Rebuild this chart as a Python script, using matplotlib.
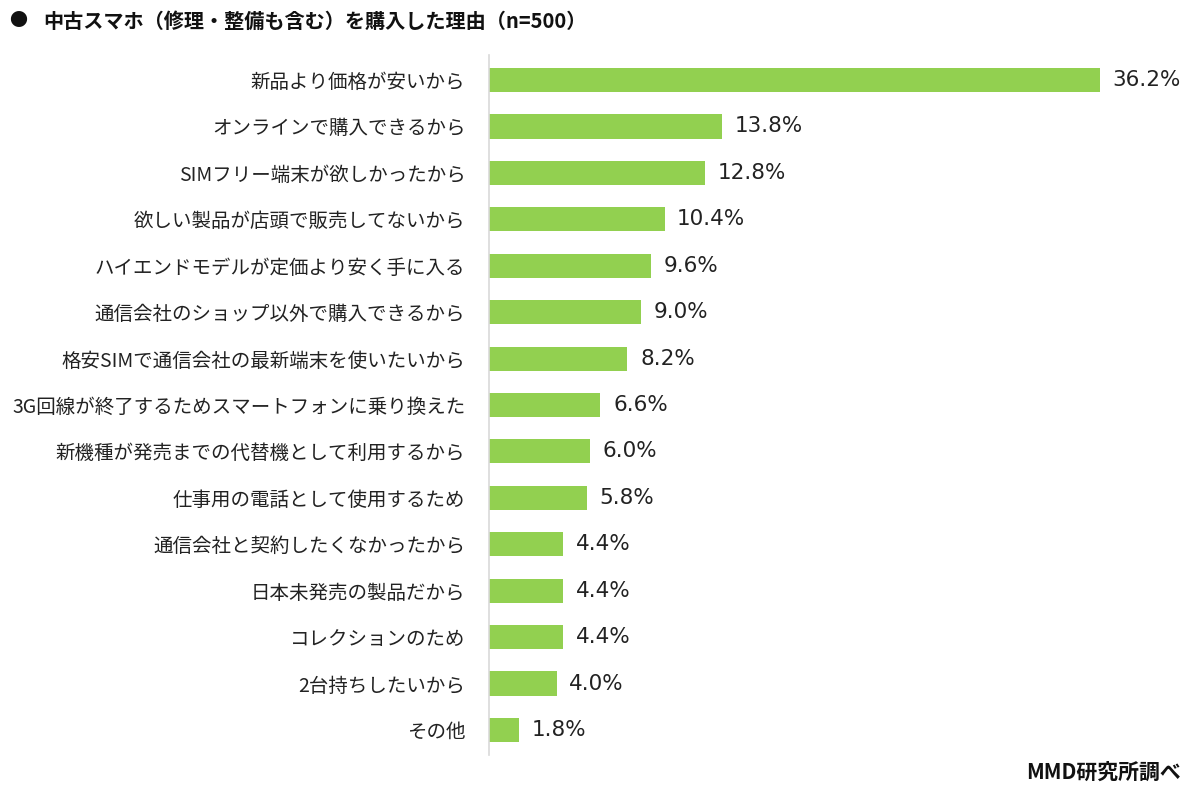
import matplotlib
matplotlib.use('Agg')
import matplotlib.pyplot as plt

plt.rcParams['font.family'] = ['Noto Sans CJK JP', 'DejaVu Sans']

# reasons for buying a used smartphone (n=500)
reasons = ['新品より価格が安いから', 'オンラインで購入できるから', 'SIMフリー端末が欲しかったから',
           '欲しい製品が店頭で販売してないから', 'ハイエンドモデルが定価より安く手に入る',
           '通信会社のショップ以外で購入できるから', '格安SIMで通信会社の最新端末を使いたいから',
           '3G回線が終了するためスマートフォンに乗り換えた', '新機種が発売までの代替機として利用するから',
           '仕事用の電話として使用するため', '通信会社と契約したくなかったから', '日本未発売の製品だから',
           'コレクションのため', '2台持ちしたいから', 'その他']
values = [36.2, 13.8, 12.8, 10.4, 9.6, 9.0, 8.2, 6.6, 6.0, 5.8, 4.4, 4.4, 4.4, 4.0, 1.8]

fig = plt.figure(figsize=(12, 7.9), dpi=100)
ax = fig.add_axes([0.4075, 0.0443, 0.5625, 0.8861])

y = list(range(len(reasons)))
ax.barh(y, values, height=0.52, color='#92D050')
for yi, v in zip(y, values):
    ax.text(v + 0.75, yi, f'{v:.1f}%', va='center', ha='left', fontsize=15.5,
            family='DejaVu Sans', color='#222222')

ax.set_xlim(0, 40)
ax.set_ylim(len(reasons) - 0.46, -0.54)
ax.set_yticks(y)
ax.set_yticklabels(reasons, fontsize=14, color='#222222')
ax.tick_params(axis='y', length=0, pad=17)
ax.set_xticks([])
for s in ['top', 'right', 'bottom']:
    ax.spines[s].set_visible(False)
ax.spines['left'].set_color('#d9d9d9')
ax.spines['left'].set_linewidth(1.2)

fig.text(0.008, 0.973, '●', fontsize=13, va='center', ha='left', color='#111111')
fig.text(0.036, 0.973, '中古スマホ（修理・整備も含む）を購入した理由（n=500）',
         fontsize=14.5, fontweight='bold', va='center', ha='left', color='#111111')
fig.text(0.984, 0.022, 'MMD研究所調べ', fontsize=15, fontweight='bold',
         va='center', ha='right', color='#111111')

fig.savefig('out.png', dpi=100)
